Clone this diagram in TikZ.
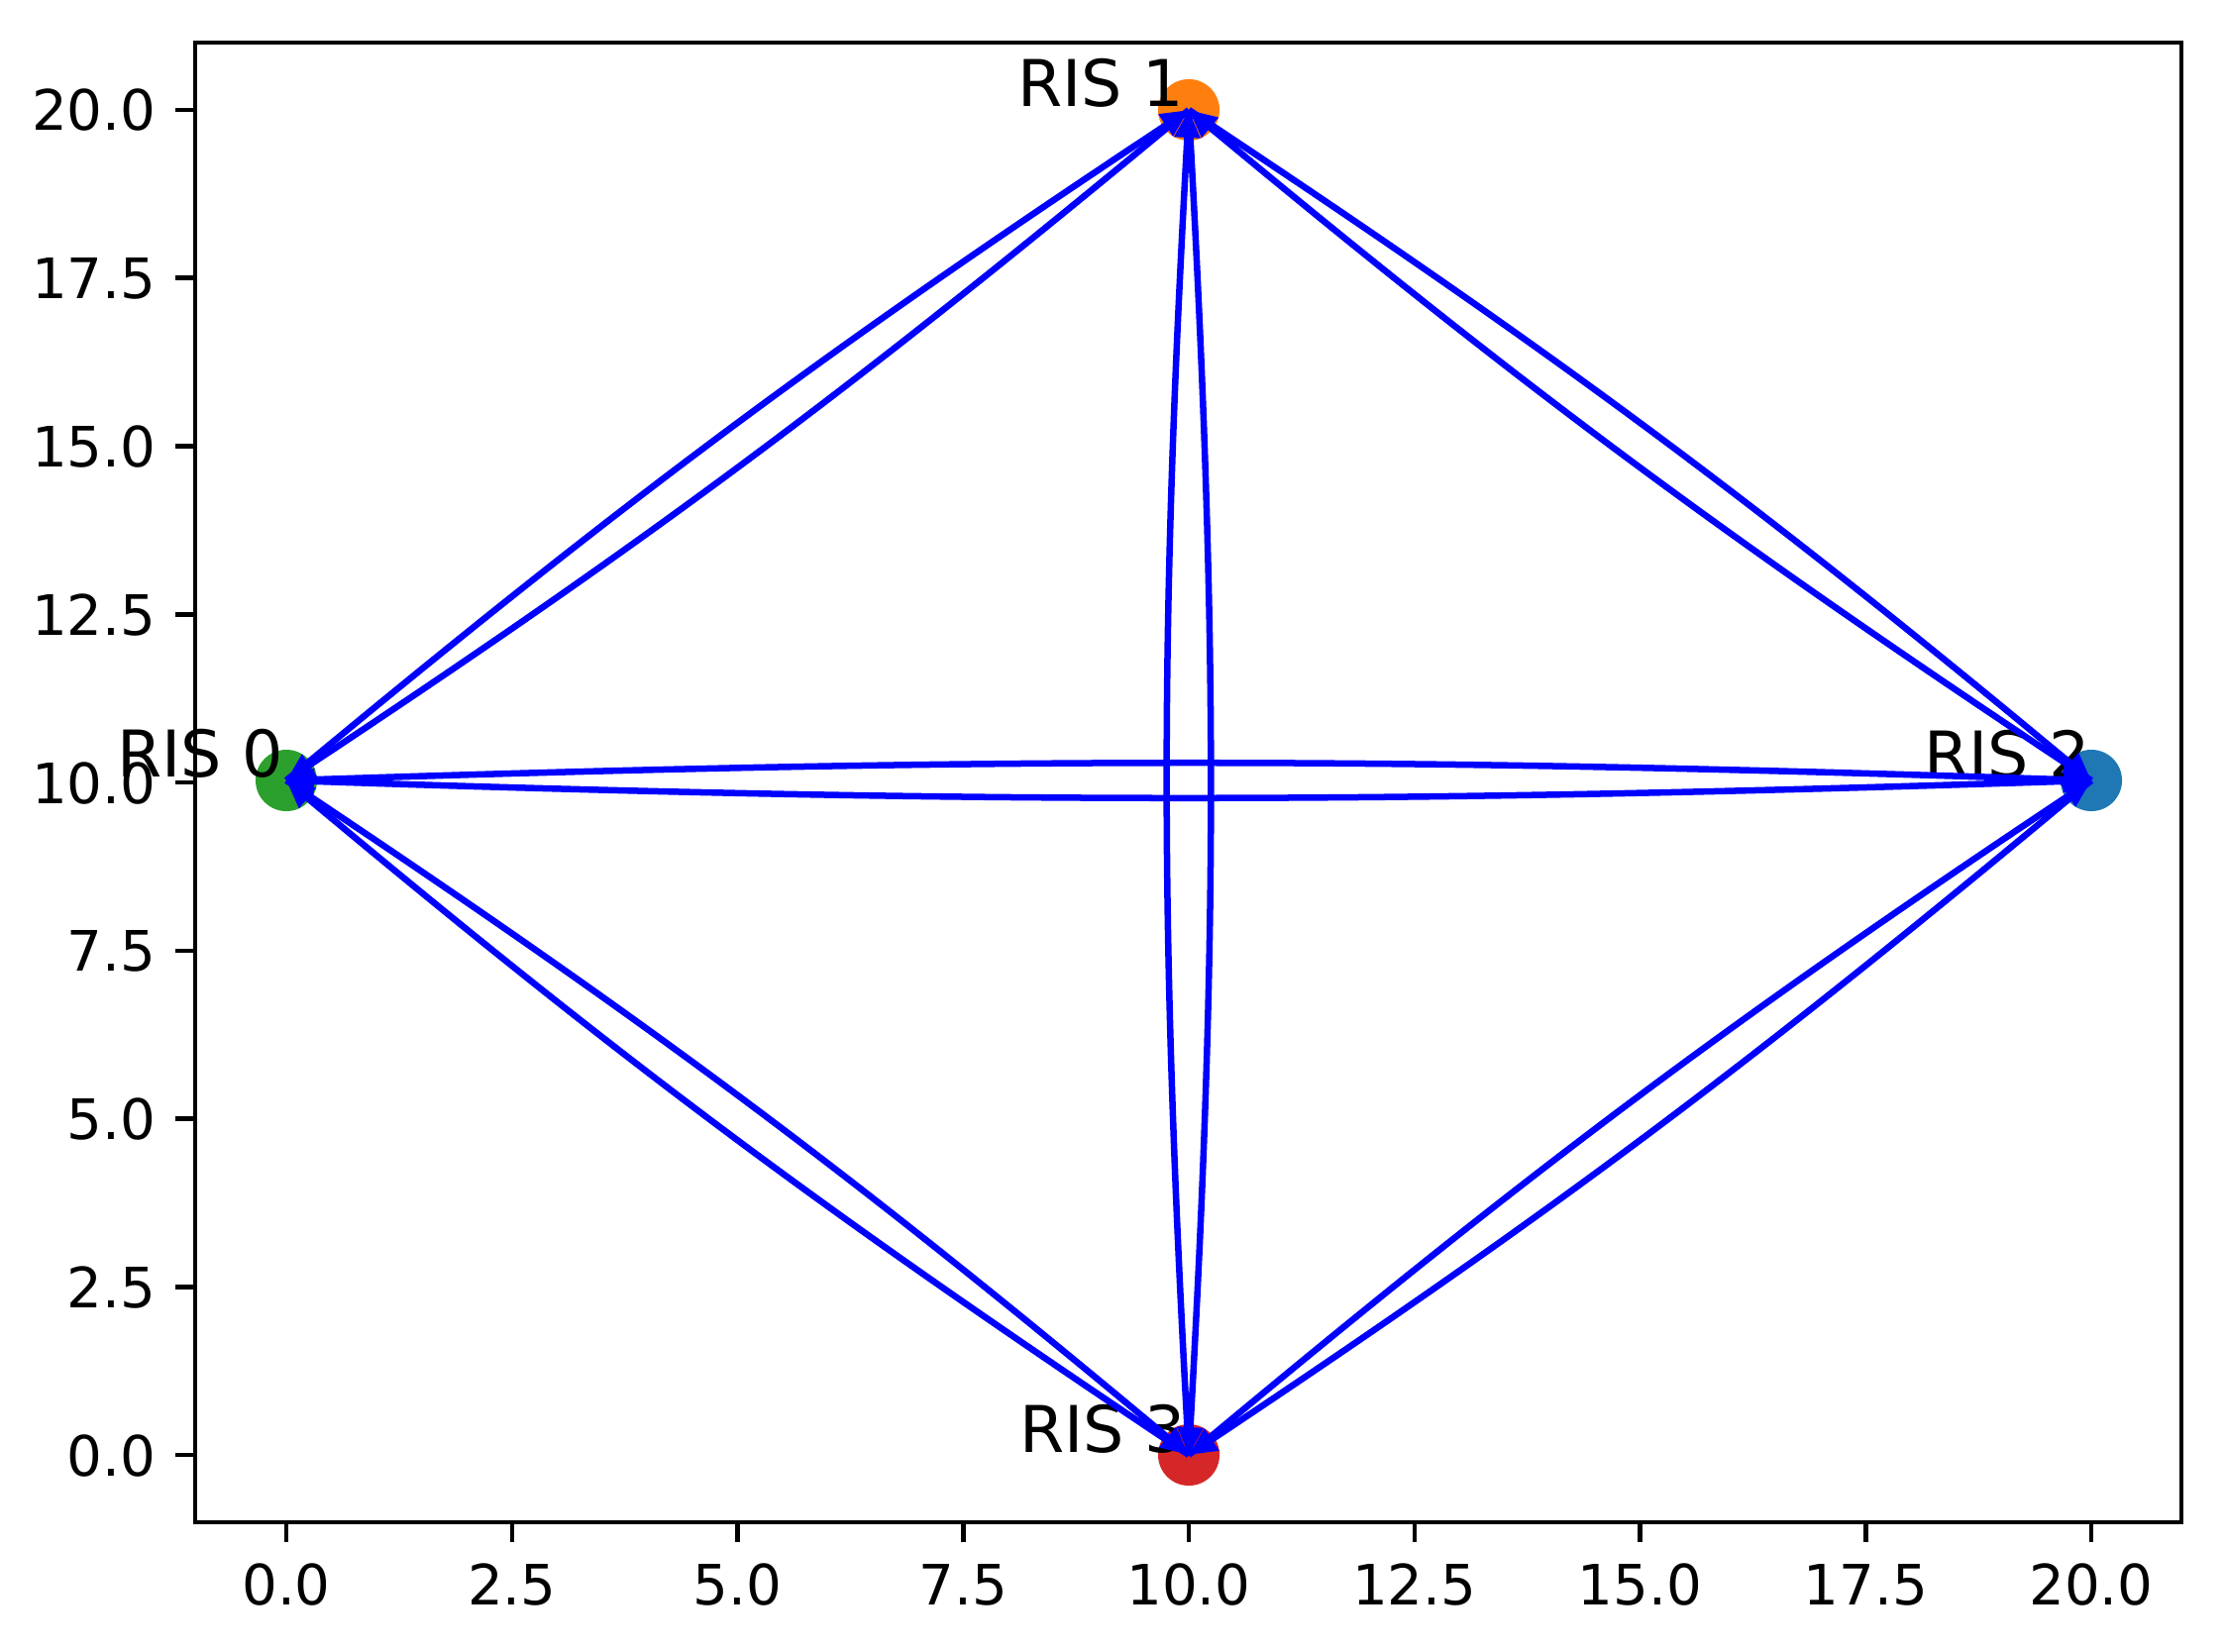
\documentclass[tikz,border=0pt]{standalone}
\usepackage{fontspec}
\setmainfont{DejaVu Sans}
\usetikzlibrary{arrows.meta}
\definecolor{mgreen}{HTML}{2CA02C}
\definecolor{morange}{HTML}{FF7F0E}
\definecolor{mblue}{HTML}{1F77B4}
\definecolor{mred}{HTML}{D62728}
\begin{document}
\begin{tikzpicture}[x=0.01cm,y=-0.01cm,
  frame/.style={line width=0.045cm, black},
  tickmark/.style={line width=0.045cm, black},
  ticklbl/.style={font=\fontsize{16}{19}\selectfont, inner sep=0pt},
  rislbl/.style={font=\fontsize{18.5}{22}\selectfont, inner sep=0pt, anchor=base east},
  dot/.style={circle, inner sep=0pt, minimum size=0.62cm, draw=none},
  link/.style={blue, line width=0.065cm, -{Triangle[length=0.28cm,width=0.25cm]}},
]
\useasboundingbox (0,0) rectangle (2246,1667);
% node centres
\coordinate (n0) at (289,788);
\coordinate (n1) at (1200,111);
\coordinate (n2) at (2111,788);
\coordinate (n3) at (1200,1469);
% dots
\node[dot, fill=mgreen] (d0) at (n0) {};
\node[dot, fill=morange] (d1) at (n1) {};
\node[dot, fill=mblue] (d2) at (n2) {};
\node[dot, fill=mred] (d3) at (n3) {};
% labels
\node[rislbl] (l0) at ([shift={(-2,-4)}]n0) {RIS 0};
\node[rislbl] (l1) at ([shift={(-4,-3)}]n1) {RIS 1};
\node[rislbl] (l2) at ([shift={(0,-3)}]n2) {RIS 2};
\node[rislbl] (l3) at ([shift={(-2,-3)}]n3) {RIS 3};
% connectors
\draw[link] (n0) to[bend left=1.9] (n2);
\draw[link] (n2) to[bend left=1.9] (n0);
\draw[link] (n1) to[bend left=3.2] (n3);
\draw[link] (n3) to[bend left=3.2] (n1);
\draw[link] (n0) to[bend left=3.1] (n1);
\draw[link] (n1) to[bend left=3.1] (n0);
\draw[link] (n1) to[bend left=3.1] (n2);
\draw[link] (n2) to[bend left=3.1] (n1);
\draw[link] (n2) to[bend left=3.1] (n3);
\draw[link] (n3) to[bend left=3.1] (n2);
\draw[link] (n3) to[bend left=3.1] (n0);
\draw[link] (n0) to[bend left=3.1] (n3);
% frame
\draw[frame] (197,43) rectangle (2202,1537);
% x ticks
\foreach \v/\t [count=\i] in {0/0.0,2.5/2.5,5/5.0,7.5/7.5,10/10.0,12.5/12.5,15/15.0,17.5/17.5,20/20.0}{
  \draw[tickmark] ({289+91.1*\v},1537) -- ++(0,20);
  \node[ticklbl, anchor=base] (xt\i) at ({289+91.1*\v},1620) {\t};
}
% y ticks
\foreach \v/\t [count=\i] in {0/0.0,2.5/2.5,5/5.0,7.5/7.5,10/10.0,12.5/12.5,15/15.0,17.5/17.5,20/20.0}{
  \draw[tickmark] (197,{1469-67.9*\v}) -- ++(-20,0);
  \node[ticklbl, anchor=base east] (yt\i) at (158,{1469-67.9*\v+21}) {\t};
}
\end{tikzpicture}
\end{document}
